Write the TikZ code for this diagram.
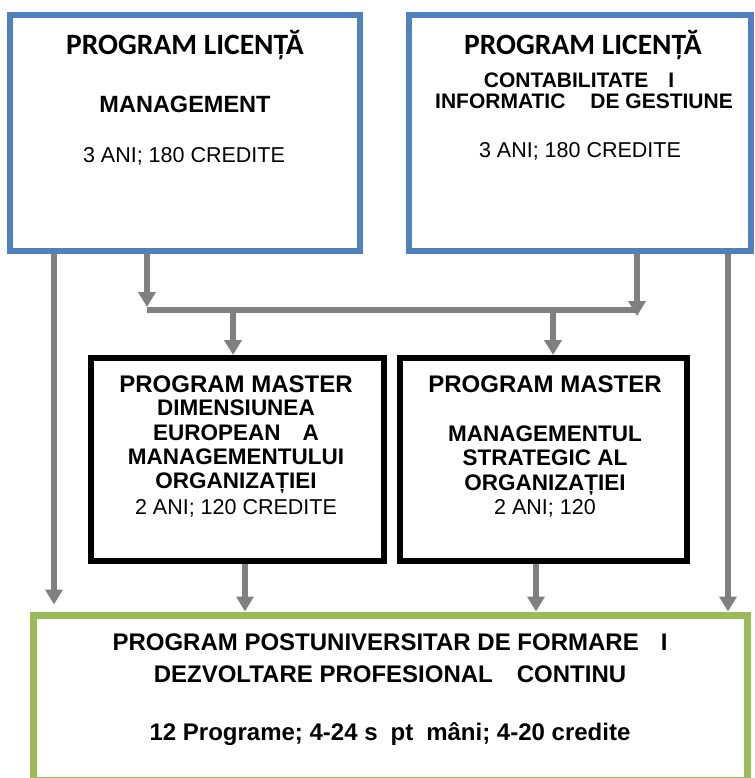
\documentclass[tikz,border=0pt]{standalone}
\usepackage{fontspec}
\setmainfont{Liberation Sans}
\newfontfamily\calfont{Carlito}
\usetikzlibrary{arrows.meta}
\definecolor{boxblue}{HTML}{4F81BD}
\definecolor{boxgreen}{HTML}{9BBB59}
\definecolor{arrgray}{HTML}{808080}
\begin{document}
\begin{tikzpicture}[x=1pt,y=-1pt,
  bluebox/.style={draw=boxblue,line width=6pt,inner sep=0pt},
  blackbox/.style={draw=black,line width=6pt,inner sep=0pt},
  greenbox/.style={draw=boxgreen,line width=7pt,inner sep=0pt},
  arr/.style={draw=arrgray,line width=6pt,-{Triangle[width=17pt,length=15pt]}},
  barline/.style={draw=arrgray,line width=6pt},
  ttl/.style={anchor=base,inner sep=0pt,font={\calfont\bfseries\fontsize{29.5}{32}\selectfont}},
  hbig/.style={anchor=base,inner sep=0pt,font={\bfseries\fontsize{23.5}{27}\selectfont}},
  hbsub/.style={anchor=base,inner sep=0pt,font={\bfseries\fontsize{21}{24}\selectfont}},
  hreg/.style={anchor=base,inner sep=0pt,font={\fontsize{21.5}{25}\selectfont}},
  mhead/.style={anchor=base,inner sep=0pt,font={\bfseries\fontsize{24}{27}\selectfont}},
  mline/.style={anchor=base,inner sep=0pt,font={\bfseries\fontsize{22.5}{26}\selectfont}},
  gline/.style={anchor=base,inner sep=0pt,font={\bfseries\fontsize{24}{27}\selectfont}}]
\useasboundingbox (0,0) rectangle (754,778);

% boxes
\node[bluebox,minimum width=350pt,minimum height=236pt] (tl) at (185,133) {};
\node[bluebox,minimum width=342pt,minimum height=236pt] (tr) at (580,133) {};
\node[blackbox,minimum width=293pt,minimum height=203pt] (ml) at (237.5,459.5) {};
\node[blackbox,minimum width=287pt,minimum height=203pt] (mr) at (543.5,459.5) {};
\node[greenbox,minimum width=714pt,minimum height=165pt] (gr) at (390,697.5) {};

% connector coordinates
\coordinate (xa) at (54,0);
\coordinate (xb) at (147,0);
\coordinate (xc) at (637,0);
\coordinate (xe) at (728,0);
\coordinate (xd1) at (233,0);
\coordinate (xd2) at (553,0);
\coordinate (xf1) at (245,0);
\coordinate (xf2) at (536,0);
\coordinate (barL) at (147,310);
\coordinate (barR) at (637,310);
\coordinate (barLt) at (147,307);
\coordinate (barRt) at (637,316);

% connectors
\draw[barline] (barL) -- (barR);
\draw[arr] (tl.south -| xb) -- (barLt);
\draw[arr] (tr.south -| xc) -- (barRt);
\draw[arr] (barL -| xd1) -- (ml.north -| xd1);
\draw[arr] (barL -| xd2) -- (mr.north -| xd2);
\draw[arr,shorten >=7pt] (tl.south -| xa) -- (gr.north -| xa);
\draw[arr] (tr.south -| xe) -- (gr.north -| xe);
\draw[arr] (ml.south -| xf1) -- (gr.north -| xf1);
\draw[arr] (mr.south -| xf2) -- (gr.north -| xf2);

% top-left text
\node[ttl] (t1) at (185,55) {PROGRAM LICENȚĂ};
\node[hbig] (t2) at (185,113) {MANAGEMENT};
\node[hreg] (t3) at (184,163) {3 ANI; 180 CREDITE};

% top-right text
\node[ttl] (r1) at (583,55) {PROGRAM LICENȚĂ};
\node[hbsub] (r2) at (579,88) {CONTABILITATE\hspace{20pt}I};
\node[hbsub] (r3) at (584,109) {INFORMATIC\hspace{25pt}DE GESTIUNE};
\node[hreg] (r4) at (580,158) {3 ANI; 180 CREDITE};

% master left text
\node[mhead] (a1) at (236,392) {PROGRAM MASTER};
\node[mline] (a2) at (236,415) {DIMENSIUNEA};
\node[mline] (a3) at (236,440) {EUROPEAN\hspace{22pt}A};
\node[mline] (a4) at (236,464) {MANAGEMENTULUI};
\node[mline] (a5) at (236,488.5) {ORGANIZAȚIEI};
\node[hreg] (a6) at (236,514) {2 ANI; 120 CREDITE};

% master right text
\node[mhead] (b1) at (545,392) {PROGRAM MASTER};
\node[mline] (b2) at (545,441) {MANAGEMENTUL};
\node[mline] (b3) at (545,465.5) {STRATEGIC AL};
\node[mline] (b4) at (545,490) {ORGANIZAȚIEI};
\node[hreg] (b5) at (545,514.5) {2 ANI; 120};

% green text
\node[gline] (g1) at (390,650) {PROGRAM POSTUNIVERSITAR DE FORMARE\hspace{22pt}I};
\node[gline] (g2) at (390,682) {DEZVOLTARE PROFESIONAL\hspace{24pt}CONTINU\hspace{17pt}};
\node[gline] (g3) at (390,740) {12 Programe; 4-24 s\hspace{13pt}pt\hspace{13pt}mâni; 4-20 credite};
\end{tikzpicture}
\end{document}
